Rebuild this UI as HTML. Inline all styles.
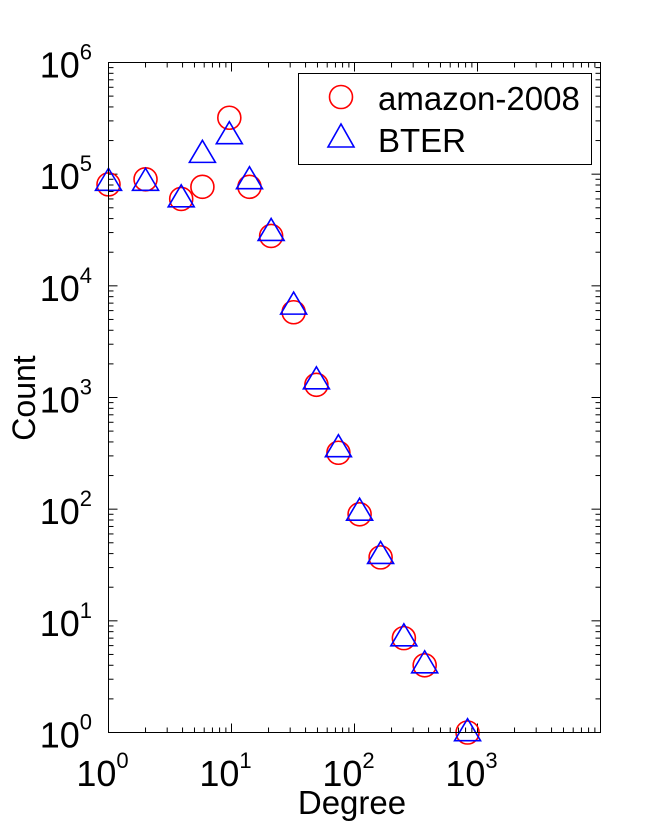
<!DOCTYPE html>
<html><head><meta charset="utf-8"><style>
body{margin:0;background:#fff}
svg{display:block;font-family:"Liberation Sans",Arial,sans-serif}
</style></head><body>
<svg id="chart" width="663" height="824" viewBox="0 0 663 824">
<rect width="663" height="824" fill="#fff"/>
<g id="ticks"></g>
<g id="marks"></g>
<rect x="108.5" y="62.5" width="492" height="670" fill="none" stroke="#000" stroke-width="1"/>
<g id="labels" font-size="36" fill="#000"></g>
<text x="352" y="814" font-size="33" text-anchor="middle">Degree</text>
<text x="35" y="398" font-size="32" text-anchor="middle" transform="rotate(-90 35 398)">Count</text>
<g>
<rect x="298.5" y="73.5" width="293" height="91" fill="#fff" stroke="#000" stroke-width="1"/>
<circle cx="341" cy="97" r="11.5" fill="none" stroke="#f00" stroke-width="1.6"/>
<text x="378" y="110" font-size="33">amazon-2008</text>
<path d="M328 147 L354 147 L341 124 Z" fill="none" stroke="#00f" stroke-width="1.6"/>
<text x="378" y="152" font-size="33">BTER</text>
</g>
</svg>
<script>
const degrees = [1, 2, 3.9, 5.8, 9.6, 14, 21, 32, 49, 74, 110, 163, 252, 372, 830];
const amazonCounts = [81000, 90000, 60000, 77000, 320000, 77000, 28000, 5800, 1300, 320, 90, 37, 7, 4, 1];
const bterCounts = [90000, 90000, 64000, 160000, 235000, 93000, 32000, 7000, 1500, 370, 100, 41, 7.5, 4.3, 1.06];
const xDecades = [0, 1, 2, 3];
const yDecades = [0, 1, 2, 3, 4, 5, 6];

const L = 108.5, R = 600.5, T = 62.5, B = 732.5;
const xMinLog = 0, xMaxLog = 4, yMinLog = 0, yMaxLog = 6;
function xs(v){ return L + (Math.log10(v) - xMinLog) / (xMaxLog - xMinLog) * (R - L); }
function ys(v){ return B - (Math.log10(v) - yMinLog) / (yMaxLog - yMinLog) * (B - T); }
const NS = "http://www.w3.org/2000/svg";
function mk(tag, attrs, parent){ const e = document.createElementNS(NS, tag); for (const k in attrs) e.setAttribute(k, attrs[k]); parent.appendChild(e); return e; }

const tg = document.getElementById('ticks');
for (let d = xMinLog; d < xMaxLog; d++) {
  for (let m = 1; m <= 9; m++) {
    const x = xs(m * Math.pow(10, d)); const len = m === 1 ? 9 : 5;
    const t1 = mk('line', {x1:x, x2:x, y1:B, y2:B-len, stroke:'#000'}, tg);
    
    
    const t2 = mk('line', {x1:x, x2:x, y1:T, y2:T+len, stroke:'#000'}, tg);
    
    
  }
}
for (let d = yMinLog; d < yMaxLog; d++) {
  for (let m = 1; m <= 9; m++) {
    const y = ys(m * Math.pow(10, d)); const len = m === 1 ? 9 : 5;
    const t1 = mk('line', {x1:L, x2:L+len, y1:y, y2:y, stroke:'#000'}, tg);
    
    
    const t2 = mk('line', {x1:R, x2:R-len, y1:y, y2:y, stroke:'#000'}, tg);
    
    
  }
}
const lg = document.getElementById('labels');
xDecades.forEach(d => {
  const x = xs(Math.pow(10, d));
  const t = mk('text', {x:x-6, y:786, 'text-anchor':'middle'}, lg);
  
  
  t.innerHTML = '10<tspan font-size="22" dy="-18">' + d + '</tspan>';
});
yDecades.forEach(d => {
  const y = ys(Math.pow(10, d));
  const t = mk('text', {x:92, y:y+15, 'text-anchor':'end'}, lg);
  
  
  t.innerHTML = '10<tspan font-size="22" dy="-18">' + d + '</tspan>';
});
const mg = document.getElementById('marks');
degrees.forEach((deg, i) => {
  const c = mk('circle', {cx:xs(deg), cy:ys(amazonCounts[i]), r:11.5, fill:'none', stroke:'#f00', 'stroke-width':1.6}, mg);
  
  
});
degrees.forEach((deg, i) => {
  const x = xs(deg), y = ys(bterCounts[i]);
  const p = mk('path', {d:`M${x-13} ${y+11} L${x+13} ${y+11} L${x} ${y-11} Z`, fill:'none', stroke:'#00f', 'stroke-width':1.6}, mg);
  
  
});
</script>
</body></html>
